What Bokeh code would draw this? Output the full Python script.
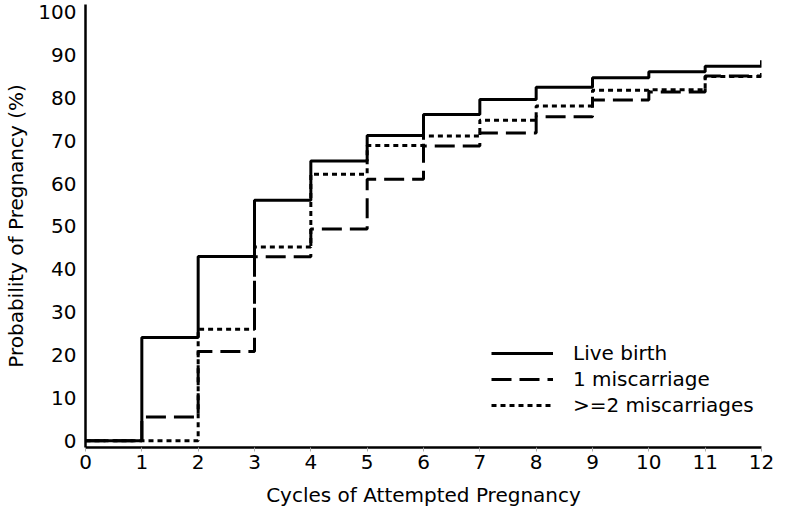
from bokeh.plotting import figure
from bokeh.models import Range1d, FixedTicker, Legend, LegendItem
from bokeh.embed import file_html
from bokeh.resources import INLINE

# ---- data ----
cycles = [0, 1, 2, 3, 4, 5, 6, 7, 8, 9, 10, 11, 12]
live_birth = [0, 24.1, 43.0, 56.1, 65.3, 71.2, 76.1, 79.6, 82.5, 84.7, 86.1, 87.4, 88.8]
one_miscarriage = [0, 5.5, 20.8, 42.9, 49.4, 61.0, 68.8, 71.8, 75.6, 79.5, 81.4, 85.1, 85.8]
two_plus_miscarriages = [0, 0, 26.0, 45.2, 62.2, 68.9, 71.1, 74.8, 78.1, 81.8, 81.9, 85.0, 85.4]
series_labels = ["Live birth", "1 miscarriage", ">=2 miscarriages"]
x_ticks = list(range(0, 13))
y_ticks = list(range(0, 101, 10))
x_title = "Cycles of Attempted Pregnancy"
y_title = "Probability of Pregnancy (%)"

FONT = "DejaVu Sans"

p = figure(width=774, height=511, output_backend="svg", toolbar_location=None,
           x_range=Range1d(0, 12), y_range=Range1d(-1.6, 101.8),
           min_border_left=85, min_border_right=13, min_border_top=4,
           min_border_bottom=64)
p.outline_line_color = None
p.grid.visible = False
p.background_fill_color = "white"
p.border_fill_color = "white"

r1 = p.step(cycles, live_birth, mode="after", line_color="black", line_width=3)
r2 = p.step(cycles, one_miscarriage, mode="after", line_color="black", line_width=3,
            line_dash="20 8")
r3 = p.step(cycles, two_plus_miscarriages, mode="after", line_color="black", line_width=3,
            line_dash="5 4")

# axes
xa = p.xaxis[0]
ya = p.yaxis[0]
xa.ticker = FixedTicker(ticks=x_ticks)
ya.ticker = FixedTicker(ticks=y_ticks)
for ax in (xa, ya):
    ax.axis_line_color = "black"
    ax.axis_line_width = 2.5
    ax.minor_tick_line_color = None
    ax.major_label_text_font = FONT
    ax.major_label_text_font_size = "20px"
    ax.major_label_text_color = "black"
    ax.axis_label_text_font = FONT
    ax.axis_label_text_font_size = "20px"
    ax.axis_label_text_font_style = "normal"
    ax.axis_label_text_color = "black"
xa.axis_label = x_title
ya.axis_label = y_title
xa.major_tick_line_color = "#aaaaaa"
xa.major_tick_line_width = 1
xa.major_tick_out = 4
xa.major_tick_in = 0
xa.major_label_standoff = 3
xa.axis_label_standoff = 11
ya.major_tick_line_color = None
ya.major_tick_out = 0
ya.major_tick_in = 0
ya.major_label_standoff = 9
ya.axis_label_standoff = 7

legend = Legend(items=[
    LegendItem(label=series_labels[0], renderers=[r1]),
    LegendItem(label=series_labels[1], renderers=[r2]),
    LegendItem(label=series_labels[2], renderers=[r3]),
], location=(406, 30))
legend.border_line_color = None
legend.background_fill_alpha = 0
legend.padding = 0
legend.margin = 0
legend.spacing = 2
legend.glyph_width = 62
legend.glyph_height = 20
legend.label_height = 20
legend.label_standoff = 20
legend.label_text_font = FONT
legend.label_text_font_size = "20px"
legend.label_text_color = "black"
p.add_layout(legend, "center")

open("out.html", "w").write(file_html(p, INLINE))
